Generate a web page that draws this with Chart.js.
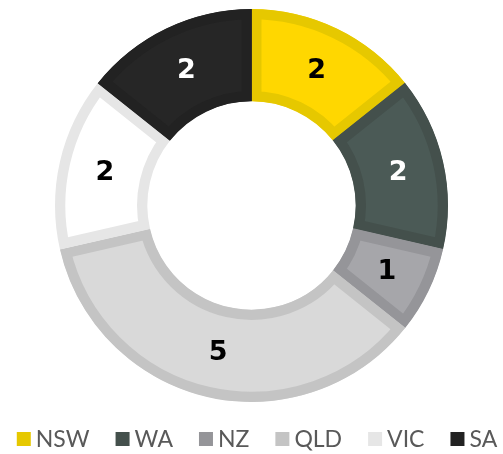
<!DOCTYPE html>
<html>
<head>
<meta charset="utf-8">
<script src="https://cdn.jsdelivr.net/npm/chart.js@4/dist/chart.umd.min.js"></script>
<style>
  html, body { margin: 0; padding: 0; background: #fff; }
  #wrap { width: 503px; height: 454px; }
</style>
</head>
<body>
<div id="wrap"><canvas id="chart"></canvas></div>
<script>
const regions = ["NSW", "WA", "NZ", "QLD", "VIC", "SA"];
const counts = [2, 2, 1, 5, 2, 2];
const fillColors = ["#ffd700", "#4b5a56", "#a6a6aa", "#d9d9d9", "#ffffff", "#262626"];
const edgeColors = ["#e6c800", "#44504c", "#959599", "#c4c4c4", "#e6e6e6", "#222222"];
const labelColors = ["#000", "#fff", "#000", "#000", "#000", "#fff"];

// draws the numbers in the middle of each slice
const sliceLabels = {
  id: "sliceLabels",
  afterDatasetsDraw(chart) {
    const ctx = chart.ctx;
    const meta = chart.getDatasetMeta(0);
    ctx.save();
    ctx.font = "bold 27px 'DejaVu Sans'";
    ctx.textAlign = "center";
    ctx.textBaseline = "middle";
    meta.data.forEach((arc, i) => {
      const p = arc.tooltipPosition();
      ctx.fillStyle = labelColors[i];
      ctx.fillText(String(counts[i]), p.x, p.y + 1);
    });
    ctx.restore();
  }
};

// one-row legend under the ring (the built-in one wraps at this size)
const bottomLegend = {
  id: "bottomLegend",
  afterDraw(chart) {
    const ctx = chart.ctx;
    const box = 14, gap = 5, spacing = 26;
    const y = 439;
    ctx.save();
    ctx.font = "23px Lato";
    ctx.textBaseline = "middle";
    const widths = regions.map(r => ctx.measureText(r).width);
    let total = widths.reduce((a, b) => a + b, 0) + regions.length * (box + gap) + (regions.length - 1) * spacing;
    let x = 257 - total / 2;
    regions.forEach((r, i) => {
      ctx.fillStyle = edgeColors[i];
      ctx.fillRect(x, y - box / 2, box, box);
      x += box + gap;
      ctx.fillStyle = "#595959";
      ctx.fillText(r, x, y + 1);
      x += widths[i] + spacing;
    });
    ctx.restore();
  }
};

new Chart(document.getElementById("chart"), {
  type: "doughnut",
  data: {
    labels: regions,
    datasets: [{
      data: counts,
      backgroundColor: fillColors,
      borderColor: edgeColors,
      borderWidth: 10,
      borderAlign: "inner"
    }]
  },
  options: {
    responsive: true,
    maintainAspectRatio: false,
    animation: false,
    cutout: "53%",
    layout: { padding: { top: 9, bottom: 52 } },
    plugins: {
      tooltip: { enabled: false },
      legend: { display: false }
    }
  },
  plugins: [sliceLabels, bottomLegend]
});
</script>
</body>
</html>
